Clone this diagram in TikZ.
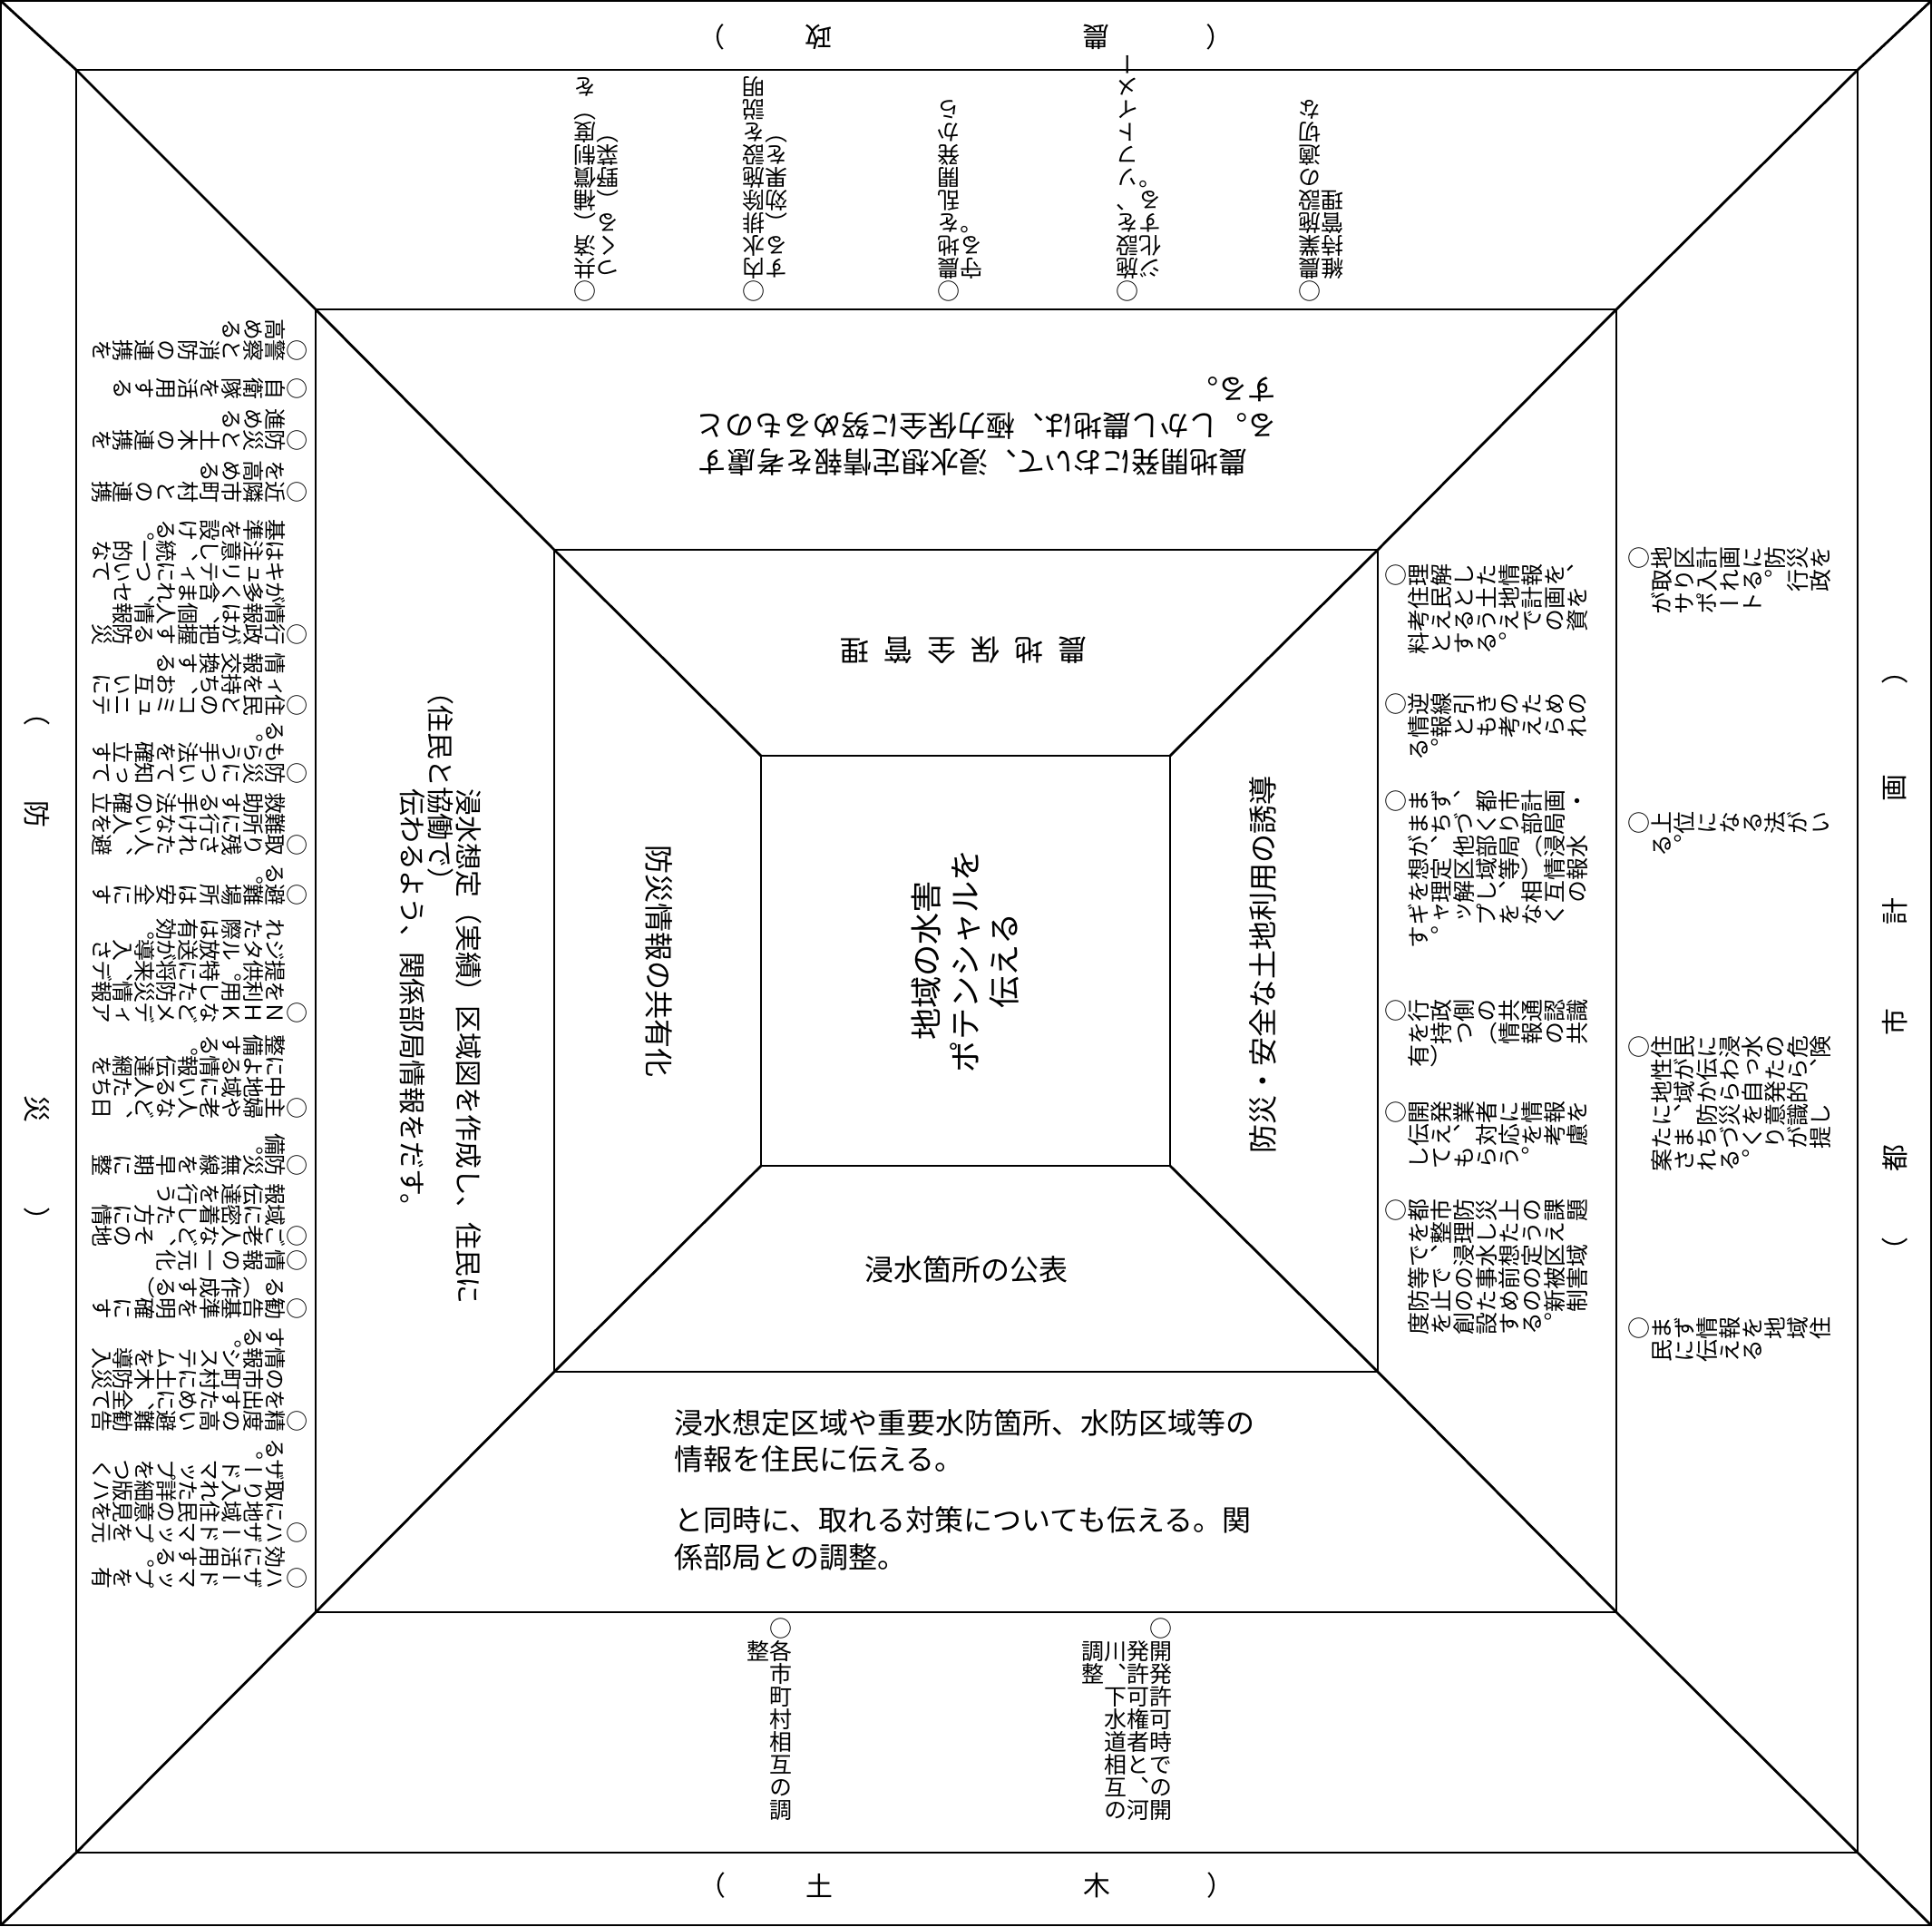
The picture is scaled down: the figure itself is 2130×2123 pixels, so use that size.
\documentclass[tikz,border=0pt]{standalone}
\usepackage{fontspec}
\setmainfont{Noto Sans CJK JP}
\newfontfamily\tatefont[RawFeature=+vert]{Noto Sans CJK JP}
\usetikzlibrary{positioning}
\makeatletter
\newlength\tpitch
\newbox\tp@box
% one column of vertical text
\newcommand\tcol[1]{\vtop{\offinterlineskip
  \@tfor\tc@c:=#1\do{\hbox to1em{\vrule height.88em depth.12em width0pt\hss\tc@c\hss}}}}
% columns of vertical text, first line on the right
\newcommand\tatep[2]{\setlength\tpitch{#1}\setbox\tp@box\hbox{}%
  \@tfor\tp@l:=#2\do{\setbox\tp@box\hbox{\hbox to\tpitch{\hss\expandafter\tcol\expandafter{\tp@l}\hss}\unhbox\tp@box}}%
  \box\tp@box}
\makeatother

\begin{document}
\begin{tikzpicture}[x=0.01cm,y=-0.01cm,
  frame/.style={line width=0.8pt},
  dept/.style={inner sep=0pt,font=\fontsize{8.5}{8.5}\selectfont},
  itemL/.style={rotate=-90,anchor=north east,inner sep=0pt,font=\tatefont\fontsize{6.8}{6.8}\selectfont},
  itemT/.style={rotate=180,anchor=north east,inner sep=0pt,font=\tatefont\fontsize{7.1}{7.1}\selectfont},
  itemB/.style={anchor=north east,inner sep=0pt,font=\tatefont\fontsize{7.1}{7.1}\selectfont},
  itemR/.style={rotate=90,anchor=north east,inner sep=0pt,font=\tatefont\fontsize{7.1}{7.1}\selectfont},
  note/.style={inner sep=0pt,align=left,font=\fontsize{9.1}{11.4}\selectfont},
  theme/.style={inner sep=0pt,font=\fontsize{9.1}{9.1}\selectfont}]
\useasboundingbox (0,0) rectangle (2130,2123);

% frames of the pyramid
\draw[frame] (1,1) rectangle (2129,2122);
\draw[frame] (84,77) rectangle (2048,2042);
\draw[frame] (348,341) rectangle (1782,1777);
\draw[frame] (611,606) rectangle (1519,1512);
\draw[frame] (839,833) rectangle (1290,1285);
\draw[frame] (1,1) -- (84,77) -- (348,341) -- (611,606) -- (839,833);
\draw[frame] (2129,1) -- (2048,77) -- (1782,341) -- (1519,606) -- (1290,833);
\draw[frame] (1,2122) -- (84,2042) -- (348,1777) -- (611,1512) -- (839,1285);
\draw[frame] (2129,2122) -- (2048,2042) -- (1782,1777) -- (1519,1512) -- (1290,1285);

% departments
\foreach \c/\x [count=\i] in {（/1345,農/1209,政/903,）/785}
  \node[dept,rotate=180] (nosei\i) at (\x,41) {\c};
\foreach \c/\x [count=\i] in {（/785,土/903,木/1209,）/1345}
  \node[dept] (doboku\i) at (\x,2078) {\c};
\foreach \c/\y [count=\i] in {（/785,防/897,災/1222,）/1345}
  \node[dept,rotate=-90] (bousai\i) at (41,\y) {\c};
\foreach \c/\y [count=\i] in {（/1379,都/1277,市/1127,計/1005,画/869,）/740}
  \node[dept,rotate=90] (toshi\i) at (2089,\y) {\c};

% outer ring: bousai
\node[itemL] (b1) at (340,399) {\tatep{0.23cm}{{○警察と消防の連携を}{　高める}}};
\node[itemL] (b2) at (340,441) {\tatep{0.23cm}{{○自衛隊を活用する}}};
\node[itemL] (b3) at (340,498) {\tatep{0.23cm}{{○防災と土木の連携を}{　進める}}};
\node[itemL] (b4) at (340,555) {\tatep{0.23cm}{{○近隣市町村との連携}{　を高める}}};
\node[itemL] (b5) at (340,712) {\tatep{0.23cm}{{○行政が把握する防災}{　情報は、個人情報}{　が多く含まれ、セ}{　キュリティについて}{　は注意し、統一的な}{　基準を設ける。}}};
\node[itemL] (b6) at (340,790) {\tatep{0.23cm}{{○住民とのコミュニテ}{　ィを持ち、お互いに}{　情報交換する}}};
\node[itemL] (b7) at (340,865) {\tatep{0.23cm}{{○防災について知って}{　もらう手法を確立す}{　る。}}};
\node[itemL] (b8) at (340,944) {\tatep{0.23cm}{{○取り残された人、避}{　難所に行けない人を}{　救助する手法の確立}}};
\node[itemL] (b9) at (340,999) {\tatep{0.23cm}{{○避難場所は安全にす}{　る。}}};
\node[itemL] (b10) at (340,1129) {\tatep{0.23cm}{{○ＮＨＫなどメディア}{　を利用した防災情報}{　提供。特に将来、デ}{　ジタル放送が導入さ}{　れた際は有効。}}};
\node[itemL] (b11) at (340,1234) {\tatep{0.23cm}{{○主婦や老人など、日}{　中地域にいる人たち}{　による情報伝達網を}{　整備する。}}};
\node[itemL] (b12) at (340,1297) {\tatep{0.23cm}{{○防災無線を早期に整}{　備。}}};
\node[itemL] (b13) at (340,1375) {\tatep{0.23cm}{{○ご老人など、その地}{　域に密着した方に情}{　報伝達を行う}}};
\node[itemL] (b14) at (340,1402) {\tatep{0.23cm}{{○情報の一元化}}};
\node[itemL] (b15) at (340,1455) {\tatep{0.23cm}{{○勧告基準を明確にす}{　る（作成する）}}};
\node[itemL] (b16) at (340,1579) {\tatep{0.23cm}{{○精度の高い避難勧告}{　を出すために、全て}{　の市町村に土木防災}{　情報システムを導入}{　する。}}};
\node[itemL] (b17) at (340,1702) {\tatep{0.23cm}{{○ハザードマップを元}{　に地域住民の意見を}{　取り入れた詳細版ハ}{　ザードマップをつく}{　る。}}};
\node[itemL] (b18) at (340,1752) {\tatep{0.23cm}{{○ハザードマップを有}{　効に活用する。}}};

% outer ring: nosei
\node[itemT] (n1) at (632,334) {\tatep{0.25cm}{{○共済（補償制度）を}{　つくる（野菜）}}};
\node[itemT] (n2) at (818,334) {\tatep{0.25cm}{{○内水排除施設を説明}{　する（効果を）}}};
\node[itemT] (n3) at (1033,334) {\tatep{0.25cm}{{○農地を乱開発から}{　守る。}}};
\node[itemT] (n4) at (1230,334) {\tatep{0.25cm}{{○施設を、ソフトイメー}{　ジ化する。}}};
\node[itemT] (n5) at (1431,334) {\tatep{0.25cm}{{○農業施設の適切な}{　維持管理}}};

% outer ring: doboku
\node[itemB] (d1) at (874,1782) {\tatep{0.25cm}{{○各市町村相互の調}{　整}}};
\node[itemB] (d2) at (1293,1782) {\tatep{0.25cm}{{○開発許可時での開}{　発許可権者と、河}{　川、下水道相互の}{　調整}}};

% outer ring: toshi keikaku
\node[itemR] (t1) at (1794,602) {\tatep{0.25cm}{{○地区計画に防災を}{　取り入れる。行政}{　がサポート}}};
\node[itemR] (t2) at (1794,894) {\tatep{0.25cm}{{○上位になる法がい}{　る。}}};
\node[itemR] (t3) at (1794,1141) {\tatep{0.25cm}{{○住民に浸水の危険}{　性が伝わったら、}{　地域から自発的}{　に、防災を意識し}{　たまちづくりが提}{　案される。}}};
\node[itemR] (t4) at (1794,1451) {\tatep{0.25cm}{{○まず情報を地域住}{　民に伝える}}};

% middle ring
\node[itemR] (m1) at (1526,621) {\tatep{0.25cm}{{○理解した情報を、}{　住民と土地計画を}{　考えるうえでの資}{　料とする。}}};
\node[itemR] (m2) at (1526,763) {\tatep{0.25cm}{{○逆線引きのための}{　情報とも考えられ}{　る。}}};
\node[itemR] (m3) at (1526,870) {\tatep{0.25cm}{{○まず、都市計画・}{　まちづくり部局}{　が、他部局（浸水}{　想定区域等）情報}{　を理解し、相互の}{　ギャップをなく}{　す。}}};
\node[itemR] (m4) at (1526,1101) {\tatep{0.25cm}{{○行政側の共通認識}{　を持つ（情報の共}{　有）}}};
\node[itemR] (m5) at (1526,1213) {\tatep{0.25cm}{{○開発業者に情報を}{　伝え、対応を考慮}{　してもらう。}}};
\node[itemR] (m6) at (1526,1321) {\tatep{0.25cm}{{○都市防災上の課題}{　を整理したうえ}{　で、浸水想定区域}{　等での事前の被害}{　防止のための新制}{　度を創設する。}}};

\node[note,rotate=180,anchor=north west] (agri) at (1408,525)
  {　農地開発において、浸水想定情報を考慮す\\る。しかし農地は、極力保全に努めるものと\\する。};
\node[note,anchor=north west] (publish) at (743,1553)
  {浸水想定区域や重要水防箇所、水防区域等の\\情報を住民に伝える。\\[0.27cm]と同時に、取れる対策についても伝える。関\\係部局との調整。};
\node[note,rotate=-90,anchor=north west,font=\fontsize{8.5}{17.6}\selectfont] (share) at (532,869)
  {浸水想定（実績）区域図を作成し、住民に\\伝わるよう、関係部局情報をだす。};
\node[note,rotate=-90,font=\fontsize{8.5}{8.5}\selectfont] (kyodo) at (486,867) {（住民と協働で）};

% inner ring: themes
\foreach \c/\x [count=\i] in {農/1182,地/1134,保/1086,全/1038,管/990,理/942}
  \node[theme,rotate=180] (hozen\i) at (\x,717) {\c};
\node[theme] (kohyo) at (1065,1399) {浸水箇所の公表};
\node[theme,rotate=-90] (kyoyu) at (727,1059) {防災情報の共有化};
\node[theme,rotate=90] (yudo) at (1392,1063) {防災・安全な土地利用の誘導};

% top of the pyramid
\node[rotate=90,align=center,inner sep=0pt,font=\fontsize{10}{12.2}\selectfont] (core) at (1064,1059)
  {地域の水害\\ポテンシャルを\\伝える};
\end{tikzpicture}
\end{document}
